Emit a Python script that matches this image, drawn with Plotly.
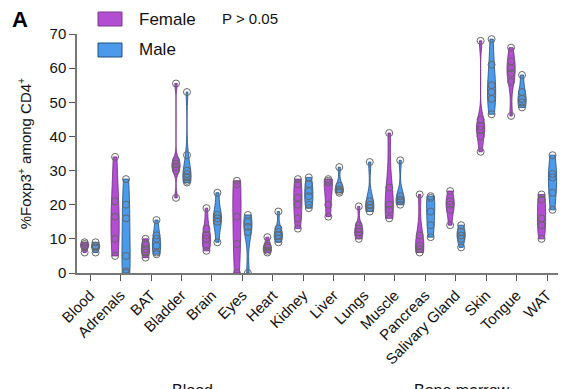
import plotly.graph_objects as go

categories = ["Blood", "Adrenals", "BAT", "Bladder", "Brain", "Eyes", "Heart", "Kidney",
              "Liver", "Lungs", "Muscle", "Pancreas", "Salivary Gland", "Skin", "Tongue", "WAT"]

female_values = [
    [9, 8.5, 8, 7.5, 6],
    [34, 21, 16.5, 10, 5],
    [10, 8.5, 7, 6, 4.5],
    [55.5, 33, 32, 31, 30, 22],
    [19, 13, 11, 10, 8, 6.5],
    [27, 26, 16.5, 8.5, 0],
    [10.5, 8, 7.5, 6.5, 6],
    [27.5, 26, 22, 20, 16, 13],
    [27.5, 27, 26.5, 20, 16.5],
    [19.5, 14, 13, 12, 11, 10],
    [41, 25, 20, 18.5, 16],
    [23, 11, 8, 7, 6],
    [24, 21, 20, 18.5, 14],
    [68, 45, 43, 42, 40, 35.5],
    [66, 62, 60, 58.5, 56, 46],
    [23, 21.5, 16, 14, 10],
]

male_values = [
    [9, 8, 7.5, 6],
    [27.5, 20, 16, 5, 0.5, 0],
    [15.5, 11, 10, 8, 6, 5.5],
    [53, 34.5, 30, 29, 28, 27, 26.5],
    [23.5, 17, 16, 15, 9],
    [17, 15, 13.5, 12, 0],
    [18, 13, 12, 11, 10, 9],
    [28, 26, 24, 22.5, 20, 19],
    [31, 25.5, 24.5, 24, 23.5],
    [32.5, 21, 20, 19, 18],
    [33, 22.5, 21.5, 21, 20],
    [22.5, 22, 18, 14, 10.5],
    [14, 12, 11, 10, 7.5],
    [68.5, 61, 55, 53, 51, 46.5],
    [58, 53, 51, 50, 48.5],
    [34.5, 29, 28, 23.5, 18.5],
]

y_ticks = [0, 10, 20, 30, 40, 50, 60, 70]

female_color = "#B34ED3"
male_color = "#4C9BEA"
FONT = "Arial, Liberation Sans, sans-serif"

GROUP_OFFSET = 0.18   # offset of each sex from the category centre (category units)
VIOLIN_WIDTH = 0.27   # violin width (category units)

fig = go.Figure()
series = [
    ("Female", female_values, female_color, "#6E2A85", -GROUP_OFFSET),
    ("Male", male_values, male_color, "#1F4E80", GROUP_OFFSET),
]
for name, vals, color, line_color, offset in series:
    for i, v in enumerate(vals):
        fig.add_trace(go.Violin(
            x=[i + offset] * len(v), y=v, name=name,
            fillcolor=color, opacity=1,
            line=dict(color=line_color, width=0.8),
            spanmode="hard", scalemode="width", width=VIOLIN_WIDTH,
            points="all", pointpos=0, jitter=0,
            marker=dict(symbol="circle-open", size=7, color="#666666",
                        line=dict(width=1)),
            box_visible=False, meanline_visible=False,
            showlegend=False, hoveron="points",
        ))

fig.update_layout(
    width=564, height=389,
    margin=dict(l=77, r=6, t=34, b=116),
    paper_bgcolor="white", plot_bgcolor="white",
    violinmode="overlay",
    font=dict(family=FONT, size=14, color="#111111"),
    showlegend=False,
)
fig.update_xaxes(
    range=[-0.43, 15.36], automargin=False,
    tickvals=list(range(len(categories))), ticktext=categories,
    showline=True, linecolor="#777777", linewidth=1.5,
    ticks="outside", ticklen=6, tickcolor="#555555", tickwidth=1,
    tickangle=-45, tickfont=dict(size=15, family=FONT),
    showgrid=False, zeroline=False,
)
fig.update_yaxes(
    range=[0, 70], tickvals=y_ticks, automargin=False,
    showline=True, linecolor="#777777", linewidth=1.5,
    ticks="outside", ticklen=6, tickcolor="#555555", tickwidth=1,
    tickfont=dict(size=15, family=FONT),
    showgrid=False, zeroline=False,
    title=dict(text="%Foxp3<sup>+</sup> among CD4<sup>+</sup>",
               font=dict(size=15, family=FONT), standoff=14),
)

# Legend drawn manually
fig.add_shape(type="rect", xref="paper", yref="paper",
              x0=(98 - 77) / 481, x1=(122 - 77) / 481,
              y0=(273 - 26) / 239, y1=(273 - 12) / 239,
              fillcolor=female_color, line=dict(color="#7A3A90", width=1))
fig.add_shape(type="rect", xref="paper", yref="paper",
              x0=(98 - 77) / 481, x1=(122 - 77) / 481,
              y0=(273 - 57) / 239, y1=(273 - 43) / 239,
              fillcolor=male_color, line=dict(color="#1F4E80", width=1))
fig.add_annotation(text="Female", xref="paper", yref="paper",
                   x=(137 - 77) / 481, y=(273 - 19) / 239,
                   xanchor="left", yanchor="middle", showarrow=False,
                   font=dict(size=17, family=FONT))
fig.add_annotation(text="Male", xref="paper", yref="paper",
                   x=(137 - 77) / 481, y=(273 - 50) / 239,
                   xanchor="left", yanchor="middle", showarrow=False,
                   font=dict(size=17, family=FONT))
fig.add_annotation(text="P > 0.05", xref="paper", yref="paper",
                   x=(220 - 77) / 481, y=(273 - 18) / 239,
                   xanchor="left", yanchor="middle", showarrow=False,
                   font=dict(size=15, family=FONT))
fig.add_annotation(text="<b>A</b>", xref="paper", yref="paper",
                   x=(10 - 77) / 481, y=(273 - 19) / 239,
                   xanchor="left", yanchor="middle", showarrow=False,
                   font=dict(size=22, family=FONT, color="black"))
# partially visible labels of the next panel
fig.add_annotation(text="Blood", xref="paper", yref="paper",
                   x=(192 - 77) / 481, y=(273 - 380) / 239,
                   xanchor="center", yanchor="top", showarrow=False,
                   font=dict(size=16, family=FONT))
fig.add_annotation(text="Bone marrow", xref="paper", yref="paper",
                   x=(462 - 77) / 481, y=(273 - 380) / 239,
                   xanchor="center", yanchor="top", showarrow=False,
                   font=dict(size=16, family=FONT))

fig.write_html("out.html", config={"displayModeBar": False},
               post_script="document.body.style.margin='0';document.body.style.overflow='hidden';")
